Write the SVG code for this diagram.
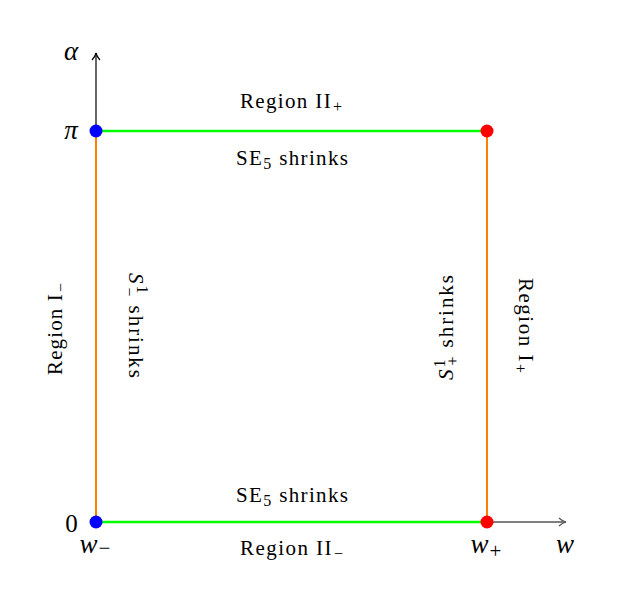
<svg xmlns="http://www.w3.org/2000/svg" width="624" height="607" viewBox="0 0 624 607">
<defs>
<marker id="arr" viewBox="0 0 10 10" refX="9" refY="5" markerWidth="10" markerHeight="10" markerUnits="userSpaceOnUse" orient="auto">
<path d="M2,1 Q5,4 9,5 Q5,6 2,9" fill="none" stroke="context-stroke" stroke-width="1.2"/>
</marker>
<style>
.lbl{font-family:"Liberation Serif","DejaVu Serif",serif;font-size:21px;fill:#000}
.math{font-family:"Liberation Serif","DejaVu Serif",serif;font-size:27px;font-style:italic;fill:#000}
.num{font-family:"Liberation Serif","DejaVu Serif",serif;font-size:25px;fill:#000}
.sub{font-size:16px;font-style:normal}
.msub{font-size:21px;font-style:normal}
.green{stroke:#00ff00;stroke-width:2.5;fill:none}
.orange{stroke:#ff8000;stroke-width:2;fill:none}
.axis{stroke:#000;stroke-width:1.2;fill:none}
.xaxis{stroke:#555;stroke-width:1.4;fill:none}
</style>
</defs>
<rect width="624" height="607" fill="#fff"/>
<g id="connectors">
<line class="axis" x1="96" y1="522" x2="96" y2="53" marker-end="url(#arr)"/>
<line class="xaxis" x1="96" y1="522" x2="566" y2="522" marker-end="url(#arr)"/>
<line class="orange" x1="96" y1="522" x2="96" y2="131"/>
<line class="orange" x1="487" y1="522" x2="487" y2="131"/>
<line class="green" x1="96" y1="131" x2="487" y2="131"/>
<line class="green" x1="96" y1="522" x2="487" y2="522"/>
</g>
<g id="axis-labels">
<text class="math" x="71" y="60" text-anchor="middle">α</text>
<text class="math" x="71" y="139" text-anchor="middle">π</text>
<text class="num" x="71.5" y="532" text-anchor="middle">0</text>
<text class="math" x="565" y="553" text-anchor="middle">w</text>
</g>
<g id="node-top-left">
<circle cx="96" cy="131" r="6.5" fill="#0000ff"/>
</g>
<g id="node-top-right">
<circle cx="487" cy="131" r="6.5" fill="#ff0000"/>
</g>
<g id="node-bottom-left">
<circle cx="96" cy="522" r="6.5" fill="#0000ff"/>
<text class="math" x="95" y="553" text-anchor="middle">w<tspan class="msub" dx="1" dy="2">−</tspan></text>
</g>
<g id="node-bottom-right">
<circle cx="487" cy="522" r="6.5" fill="#ff0000"/>
<text class="math" x="486" y="553" text-anchor="middle">w<tspan class="msub" dx="1" dy="5">+</tspan></text>
</g>
<g id="edge-labels">
<text class="lbl" x="240" y="108" textLength="102" lengthAdjust="spacing">Region II<tspan class="sub" dx="1" dy="4">+</tspan></text>
<text class="lbl" x="236" y="165" textLength="112" lengthAdjust="spacing">SE<tspan class="sub" dy="4">5</tspan><tspan dy="-4"> shrinks</tspan></text>
<text class="lbl" x="236" y="502" textLength="112" lengthAdjust="spacing">SE<tspan class="sub" dy="4">5</tspan><tspan dy="-4"> shrinks</tspan></text>
<text class="lbl" x="240" y="555" textLength="103" lengthAdjust="spacing">Region II<tspan class="sub" dx="1" dy="4">−</tspan></text>
<text class="lbl" transform="translate(62,375) rotate(-90)" textLength="92" lengthAdjust="spacing">Region I<tspan class="sub" dx="1" dy="4">−</tspan></text>
<text class="lbl" transform="translate(129,273) rotate(90)" textLength="105" lengthAdjust="spacing"><tspan font-style="italic">S</tspan><tspan class="sub" dy="-8">1</tspan><tspan class="sub" dx="-8" dy="13">−</tspan><tspan dy="-5"> shrinks</tspan></text>
<text class="lbl" transform="translate(453,380) rotate(-90)" textLength="105" lengthAdjust="spacing"><tspan font-style="italic">S</tspan><tspan class="sub" dy="-8">1</tspan><tspan class="sub" dx="-8" dy="13">+</tspan><tspan dy="-5"> shrinks</tspan></text>
<text class="lbl" transform="translate(519,278) rotate(90)" textLength="95" lengthAdjust="spacing">Region I<tspan class="sub" dx="1" dy="4">+</tspan></text>
</g>
</svg>
